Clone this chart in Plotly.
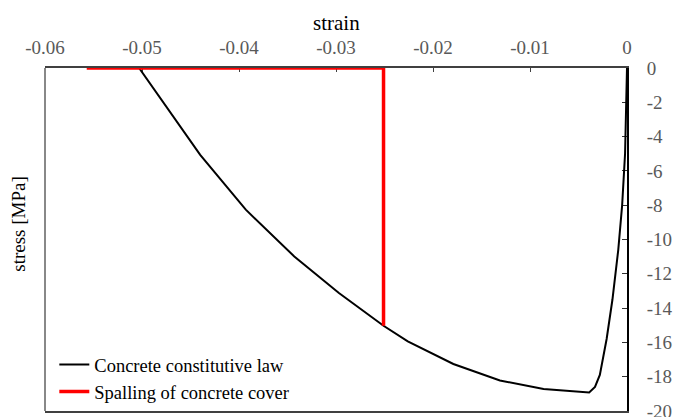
import plotly.graph_objects as go

# Concrete constitutive law (strain, stress [MPa])
law_strain = [0.0, -0.0002, -0.0005, -0.0009, -0.0015, -0.0021, -0.0028, -0.0033, -0.0039,
              -0.0086, -0.0131, -0.0179, -0.0226, -0.0251, -0.0297, -0.0343, -0.0393, -0.0440, -0.0503]
law_stress = [0.0, -5.0, -8.0, -10.6, -13.5, -15.8, -17.9, -18.6, -18.92,
              -18.72, -18.22, -17.26, -15.94, -15.03, -13.12, -10.99, -8.26, -5.06, 0.0]

# Spalling of concrete cover
spall_strain = [-0.0557, -0.0251, -0.0251]
spall_stress = [0.0, 0.0, -15.03]

x_tickvals = [-0.06, -0.05, -0.04, -0.03, -0.02, -0.01, 0]
x_ticktext = ["-0.06", "-0.05", "-0.04", "-0.03", "-0.02", "-0.01", "0"]
y_tickvals = [0, -2, -4, -6, -8, -10, -12, -14, -16, -18, -20]
y_ticktext = ["0", "-2", "-4", "-6", "-8", "-10", "-12", "-14", "-16", "-18", "-20"]

FONT = "Liberation Serif"

fig = go.Figure()
fig.add_trace(go.Scatter(x=law_strain, y=law_stress, mode="lines",
                         line=dict(color="black", width=2),
                         name="Concrete constitutive law", cliponaxis=False))
fig.add_trace(go.Scatter(x=spall_strain, y=spall_stress, mode="lines",
                         line=dict(color="#ff0000", width=3.5),
                         name="Spalling of concrete cover", cliponaxis=False))

# the page body adds an 8px margin; the figure is sized so it ends at the window edge
fig.update_layout(
    width=678, height=409,
    margin=dict(l=37, r=59, t=60, b=6, autoexpand=False),
    paper_bgcolor="white", plot_bgcolor="white",
    font=dict(family=FONT, size=18, color="black"),
    showlegend=True,
    legend=dict(x=0.016, y=0.0, xanchor="left", yanchor="bottom",
                bgcolor="rgba(0,0,0,0)", font=dict(family=FONT, size=18.5, color="black"),
                tracegroupgap=0, itemwidth=30),
    xaxis=dict(side="top", range=[-0.06, 0], tickvals=x_tickvals, ticktext=x_ticktext,
               showgrid=False, zeroline=False, showline=True, linecolor="#404040", linewidth=1.5,
               mirror=True, ticks="inside", ticklen=4, tickcolor="#404040", tickwidth=1,
               tickfont=dict(family=FONT, size=19, color="#595959"), layer="below traces",
               ticklabelstandoff=5, ticklabeloverflow="allow", automargin=False),
    yaxis=dict(side="right", range=[-20, 0], tickvals=y_tickvals, ticktext=y_ticktext,
               showgrid=False, zeroline=False, showline=True, linecolor="black", linewidth=2,
               ticks="inside", ticklen=5, tickcolor="#303030", tickwidth=1,
               tickfont=dict(family=FONT, size=19, color="#595959"), layer="below traces",
               ticklabelstandoff=14, ticklabeloverflow="allow", automargin=False),
    shapes=[dict(type="line", xref="paper", yref="paper", x0=0, x1=0, y0=0, y1=1,
                 line=dict(color="#606060", width=1.5), layer="below")],
    annotations=[
        dict(text="strain", xref="paper", yref="paper", x=0.5, y=1.132, showarrow=False,
             xanchor="center", yanchor="middle", font=dict(family=FONT, size=21, color="black")),
        dict(text="stress [MPa]", xref="paper", yref="paper", x=-0.047, y=0.545, showarrow=False,
             textangle=-90, xanchor="center", yanchor="middle",
             font=dict(family=FONT, size=19, color="black")),
    ],
)

fig.write_html("out.html")
